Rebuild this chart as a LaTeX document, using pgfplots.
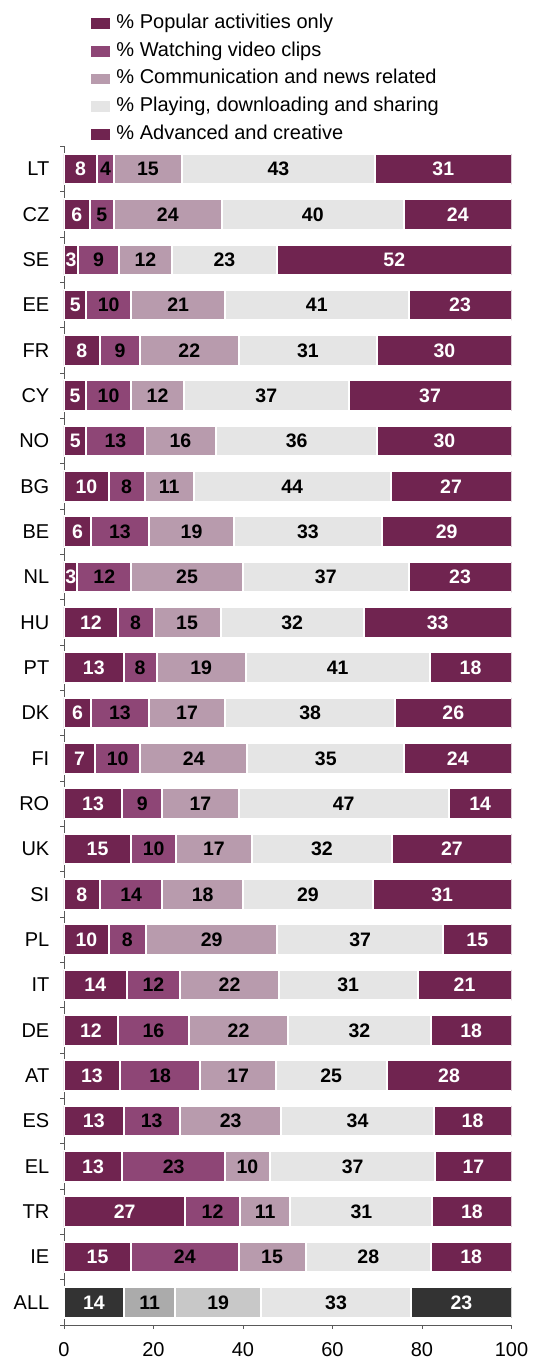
\documentclass[border=0pt]{standalone}
\usepackage{fontspec}
\setmainfont{Liberation Sans}
\usepackage{pgfplots}
\usepackage{pgfplotstable}
\pgfplotsset{compat=1.18}
\definecolor{cPop}{HTML}{702450}
\definecolor{cVid}{HTML}{8E4676}
\definecolor{cCom}{HTML}{B89BAD}
\definecolor{cPla}{HTML}{E5E5E5}
\definecolor{cAdv}{HTML}{702450}
\definecolor{gDark}{HTML}{333333}
\definecolor{gMid}{HTML}{ABABAB}
\definecolor{gLight}{HTML}{C8C8C8}
\definecolor{axisgray}{HTML}{595959}

\pgfplotstableread{
y  a    b    c    d    e    la lb lc ld le
25 7.4  3.8  15.1 43.2 30.5 8  4  15 43 31
24 5.7  5.5  24.0 40.8 24.0 6  5  24 40 24
23 3.1  9.2  11.8 23.5 52.4 3  9  12 23 52
22 5    10   21   41   23   5  10 21 41 23
21 8    9    22   31   30   8  9  22 31 30
20 4.9  10.1 11.8 36.8 36.4 5  10 12 37 37
19 5    13   16   36   30   5  13 16 36 30
18 10   8    11   44   27   10 8  11 44 27
17 6    13   19   33   29   6  13 19 33 29
16 3    12   25   37   23   3  12 25 37 23
15 12   8    15   32   33   12 8  15 32 33
14 13.3 7.4  19.9 41.1 18.3 13 8  19 41 18
13 6    13   17   38   26   6  13 17 38 26
12 7    10   24   35   24   7  10 24 35 24
11 13   9    17   47   14   13 9  17 47 14
10 15.0 10.1 16.8 31.5 26.6 15 10 17 32 27
9  8    14   18   29   31   8  14 18 29 31
8  10.0 8.3  29.4 37.0 15.3 10 8  29 37 15
7  14   12   22   31   21   14 12 22 31 21
6  12   16   22   32   18   12 16 22 32 18
5  12.5 18.0 16.8 24.8 27.9 13 18 17 25 28
4  13.3 12.6 22.7 34.0 17.4 13 13 23 34 18
3  13   23   10   37   17   13 23 10 37 17
2  27.1 12.2 11.3 31.7 17.7 27 12 11 31 18
1  15   24   15   28   18   15 24 15 28 18
}\countries
\pgfplotstableread{
y  a    b    c    d    e    la lb lc ld le
0  13.4 11.5 19.1 33.6 22.4 14 11 19 33 23
}\allrow

\pgfplotsset{
  base/.style={
    at={(64pt,36pt)}, anchor=south west,
    scale only axis, width=447.5pt, height=1178.6pt,
    xbar stacked, bar width=30.5pt,
    xmin=0, xmax=100, ymin=-0.5, ymax=25.5,
    point meta=explicit symbolic,
    nodes near coords,
    every node near coord/.append style={
      font=\fontsize{19.5}{20}\selectfont\bfseries,
      anchor=center, inner sep=0pt},
  },
  seg/.style 2 args={fill=#1, draw=white, line width=2pt,
    every node near coord/.append style={text=#2}},
}

\begin{document}
\begin{tikzpicture}
\useasboundingbox (0,0) rectangle (533pt,1361pt);
\begin{axis}[base,
  axis lines*=left,
  axis line style={axisgray, line width=0.8pt},
  tick align=outside,
  major tick length=4pt, minor tick length=4pt,
  tick style={axisgray, line width=0.8pt},
  xtick={0,20,...,100},
  ytick={0,...,25},
  yticklabels={ALL,IE,TR,EL,ES,AT,DE,IT,PL,SI,UK,RO,FI,DK,PT,HU,NL,BE,BG,NO,CY,FR,EE,SE,CZ,LT},
  major y tick style={draw=none},
  minor ytick={-0.5,0.5,...,25.5},
  ticklabel style={font=\fontsize{20}{24}\selectfont},
  yticklabel style={inner sep=0pt, xshift=-10.5pt},
  xticklabel style={inner sep=0pt, yshift=-13pt},
  /pgf/number format/assume math mode=true,
  legend style={at={(axis description cs:0.0603,1)}, anchor=north west, yshift=132.9pt,
    draw=none, fill=none, inner sep=0pt, outer sep=0pt, row sep=7.7pt,
    font=\fontsize{20}{24}\selectfont,
    nodes={inner sep=0pt, text height=15pt, text depth=5pt},
    /tikz/every odd column/.append style={column sep=6.5pt}},
  legend cell align=left,
  legend image code/.code={\fill[#1, draw=none] (0pt,-5.3pt) rectangle (19pt,5.3pt);},
]
\addplot[seg={cPop}{white}] table[x=a, y=y, meta=la] {\countries};
\addplot[seg={cVid}{black}] table[x=b, y=y, meta=lb] {\countries};
\addplot[seg={cCom}{black}] table[x=c, y=y, meta=lc] {\countries};
\addplot[seg={cPla}{black}] table[x=d, y=y, meta=ld] {\countries};
\addplot[seg={cAdv}{white}] table[x=e, y=y, meta=le] {\countries};
\legend{{\% Popular activities only}, {\% Watching video clips}, {\% Communication and news related}, {\% Playing, downloading and sharing}, {\% Advanced and creative}}
\end{axis}
\begin{axis}[base, hide axis]
\addplot[seg={gDark}{white}] table[x=a, y=y, meta=la] {\allrow};
\addplot[seg={gMid}{black}] table[x=b, y=y, meta=lb] {\allrow};
\addplot[seg={gLight}{black}] table[x=c, y=y, meta=lc] {\allrow};
\addplot[seg={cPla}{black}] table[x=d, y=y, meta=ld] {\allrow};
\addplot[seg={gDark}{white}] table[x=e, y=y, meta=le] {\allrow};
\end{axis}
\end{tikzpicture}
\end{document}
